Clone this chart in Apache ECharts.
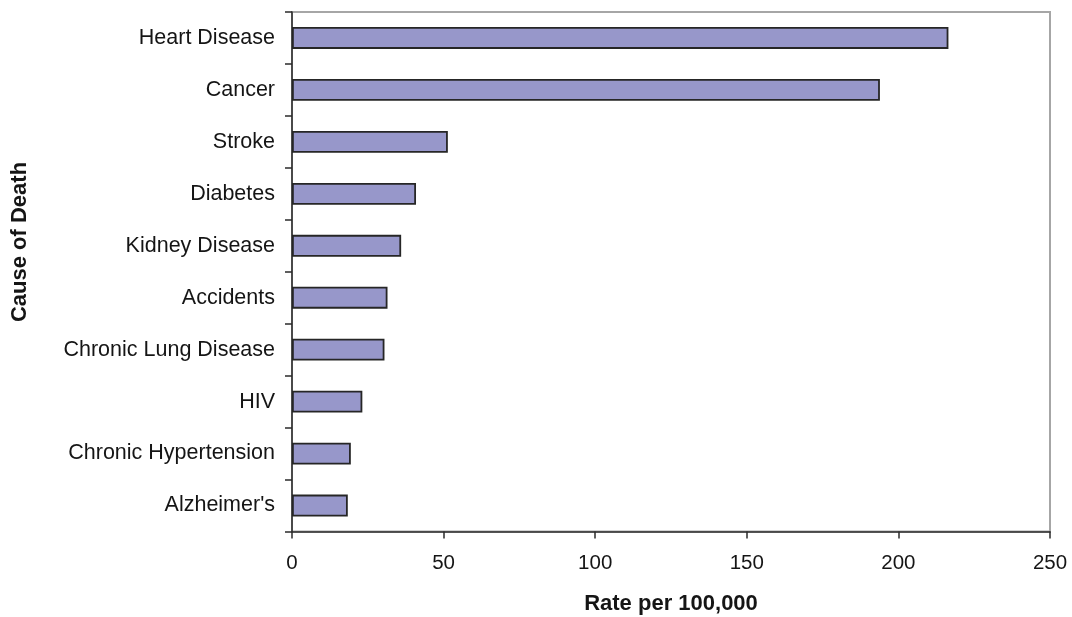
<!DOCTYPE html>
<html>
<head>
<meta charset="utf-8">
<title>Cause of Death</title>
<script src="https://cdn.jsdelivr.net/npm/echarts@6/dist/echarts.min.js"></script>
<style>
  html, body { margin: 0; padding: 0; background: #fff; }
  #main { width: 1072px; height: 617px; }
</style>
</head>
<body>
<div id="main"></div>
<script>
// causes, top to bottom
var causes = ["Heart Disease", "Cancer", "Stroke", "Diabetes", "Kidney Disease",
    "Accidents", "Chronic Lung Disease", "HIV", "Chronic Hypertension", "Alzheimer's"];
// rate per 100,000
var rates = [216.5, 193.9, 51.4, 40.9, 36.0, 31.5, 30.5, 23.2, 19.4, 18.4];
var rateTicks = [0, 50, 100, 150, 200, 250];

var axisColor = "#2b2b2b";
var textColor = "#151515";
var font = "Arial, 'Liberation Sans', sans-serif";

var chart = echarts.init(document.getElementById('main'));
var option = {
    animation: false,
    backgroundColor: "#fff",
    grid: {
        left: 292,
        right: 22,
        top: 12,
        bottom: 85.5,
        outerBoundsMode: 'none',
        show: true,
        borderColor: "#a6a6a6",
        borderWidth: 2
    },
    xAxis: {
        type: 'value',
        min: rateTicks[0],
        max: rateTicks[rateTicks.length - 1],
        interval: 50,
        name: "Rate per 100,000",
        nameLocation: 'middle',
        nameGap: 61,
        nameTextStyle: {
            fontFamily: font,
            fontSize: 22,
            fontWeight: 'bold',
            color: textColor
        },
        axisLine: { show: true, lineStyle: { color: axisColor, width: 1.5 } },
        axisTick: { show: true, length: 7, lineStyle: { color: axisColor, width: 1.5 } },
        axisLabel: {
            margin: 21,
            fontFamily: font,
            fontSize: 20.5,
            color: textColor
        },
        splitLine: { show: false }
    },
    yAxis: {
        type: 'category',
        data: causes,
        inverse: true,
        axisLine: { show: true, lineStyle: { color: axisColor, width: 1.5 } },
        axisTick: { show: true, length: 7, lineStyle: { color: axisColor, width: 1.5 } },
        axisLabel: {
            margin: 17,
            fontFamily: font,
            fontSize: 21.5,
            color: textColor
        },
        splitLine: { show: false }
    },
    graphic: [{
        type: 'text',
        x: 20,
        y: 242,
        rotation: Math.PI / 2,
        style: {
            text: "Cause of Death",
            fontFamily: font,
            fontSize: 22,
            fontWeight: 'bold',
            fill: textColor,
            align: 'center',
            verticalAlign: 'middle'
        }
    }],
    series: [{
        type: 'bar',
        data: rates,
        barWidth: '42%',
        itemStyle: {
            color: "#9797ca",
            borderColor: "#262626",
            borderWidth: 1.8
        }
    }]
};
chart.setOption(option);
</script>
</body>
</html>
